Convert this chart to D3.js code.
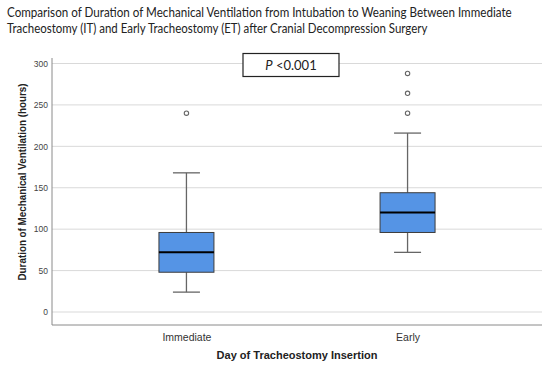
<!DOCTYPE html>
<html>
<head>
<meta charset="utf-8">
<script src="https://cdn.jsdelivr.net/npm/d3@7"></script>
<style>
body { margin: 0; background: #fff; }
</style>
</head>
<body>
<div id="chart"></div>
<script>
// box plot values (hours)
const groups = ["Immediate", "Early"];
const mins = [24, 72];
const q1s = [48, 96];
const medians = [72, 120];
const q3s = [96, 144];
const maxs = [168, 216];
const outliers = [[240], [240, 264, 288]];
const yTicks = [0, 50, 100, 150, 200, 250, 300];
const titleLines = [
  "Comparison of Duration of Mechanical Ventilation from Intubation to Weaning Between Immediate",
  "Tracheostomy (IT) and Early Tracheostomy (ET) after Cranial Decompression Surgery"
];

const W = 550, H = 368;
const mLeft = 52, mRight = 542, mTop = 58, mBottom = 325;

const svg = d3.select("#chart").append("svg")
  .attr("width", W)
  .attr("height", H);

const x = d3.scalePoint().domain(groups).range([mLeft, mRight]).padding(0.608);
const y = d3.scaleLinear().domain([0, 300]).range([312, 63.5]);

// title (Calibri-like width: squeeze the line horizontally to the measured width)
const titleW = [505, 421];
titleLines.forEach(function(s, i) {
  const t = svg.append("text")
    .attr("font-family", "Lato, 'Open Sans', sans-serif")
    .attr("font-size", 13.5).attr("fill", "#222")
    .text(s);
  const w = t.node().getComputedTextLength();
  t.attr("transform", "translate(7," + (17 + i * 16) + ") scale(" + (titleW[i] / w) + ",1)");
});

// gridlines
svg.append("g").selectAll("line")
  .data(yTicks)
  .enter()
  .append("line")
  .attr("x1", mLeft).attr("x2", mRight)
  .attr("y1", d => y(d)).attr("y2", d => y(d))
  .attr("stroke", "#d9d9d9").attr("stroke-width", 1);

// y axis
const yAxis = svg.append("g")
  .attr("transform", "translate(" + mLeft + ",0)")
  .call(d3.axisLeft(y).tickValues(yTicks).tickSize(0).tickPadding(4));
yAxis.select(".domain").attr("stroke", "#8a8a8a").attr("d", "M0," + mTop + "V" + mBottom);
yAxis.selectAll("text").attr("font-family", "'Liberation Sans', Arial, sans-serif")
  .attr("font-size", 8.5).attr("fill", "#444");

// x axis
const xAxis = svg.append("g")
  .attr("transform", "translate(0," + mBottom + ")")
  .call(d3.axisBottom(x).tickSize(0).tickPadding(9));
xAxis.select(".domain").attr("stroke", "#8a8a8a").attr("d", "M" + mLeft + ",0H" + mRight);
xAxis.selectAll("text").attr("font-family", "'Liberation Sans', Arial, sans-serif")
  .attr("font-size", 10.5).attr("fill", "#333");

// axis titles
svg.append("text")
  .attr("transform", "translate(26,182) rotate(-90)")
  .attr("text-anchor", "middle")
  .attr("font-family", "'Liberation Sans', Arial, sans-serif")
  .attr("font-size", 10).attr("font-weight", "bold").attr("fill", "#222")
  .attr("textLength", 197).attr("lengthAdjust", "spacingAndGlyphs")
  .text("Duration of Mechanical Ventilation (hours)");
svg.append("text")
  .attr("x", (mLeft + mRight) / 2).attr("y", 359)
  .attr("text-anchor", "middle")
  .attr("font-family", "'Liberation Sans', Arial, sans-serif")
  .attr("font-size", 11).attr("font-weight", "bold").attr("fill", "#222")
  .text("Day of Tracheostomy Insertion");

// boxes
const boxW = 55, capW = 27;
const g = svg.append("g");
groups.forEach(function(k, i) {
  const cx = x(k);
  g.append("line").attr("x1", cx).attr("x2", cx).attr("y1", y(maxs[i])).attr("y2", y(q3s[i]))
    .attr("stroke", "#666").attr("stroke-width", 1.3);
  g.append("line").attr("x1", cx).attr("x2", cx).attr("y1", y(q1s[i])).attr("y2", y(mins[i]))
    .attr("stroke", "#666").attr("stroke-width", 1.3);
  [maxs[i], mins[i]].forEach(function(v) {
    g.append("line").attr("x1", cx - capW / 2).attr("x2", cx + capW / 2)
      .attr("y1", y(v)).attr("y2", y(v))
      .attr("stroke", "#666").attr("stroke-width", 1.3);
  });
  g.append("rect")
    .attr("x", cx - boxW / 2).attr("width", boxW)
    .attr("y", y(q3s[i])).attr("height", y(q1s[i]) - y(q3s[i]))
    .attr("fill", "#5594e5").attr("stroke", "#3d3d3d").attr("stroke-width", 1);
  g.append("line").attr("x1", cx - boxW / 2).attr("x2", cx + boxW / 2)
    .attr("y1", y(medians[i])).attr("y2", y(medians[i]))
    .attr("stroke", "#000").attr("stroke-width", 2);
  g.selectAll(null)
    .data(outliers[i])
    .enter()
    .append("circle")
    .attr("cx", cx).attr("cy", d => y(d)).attr("r", 2.2)
    .attr("fill", "#fff").attr("stroke", "#666").attr("stroke-width", 1.1);
});

// p value box
svg.append("rect").attr("x", 243).attr("y", 53.5).attr("width", 96).attr("height", 23)
  .attr("fill", "#fff").attr("stroke", "#222").attr("stroke-width", 1.2);
const pt = svg.append("text").attr("x", 291).attr("y", 70)
  .attr("text-anchor", "middle")
  .attr("font-family", "Lato, 'Open Sans', sans-serif").attr("font-size", 13).attr("fill", "#222");
pt.append("tspan").attr("font-style", "italic").text("P");
pt.append("tspan").text(" <0.001");
</script>
</body>
</html>
